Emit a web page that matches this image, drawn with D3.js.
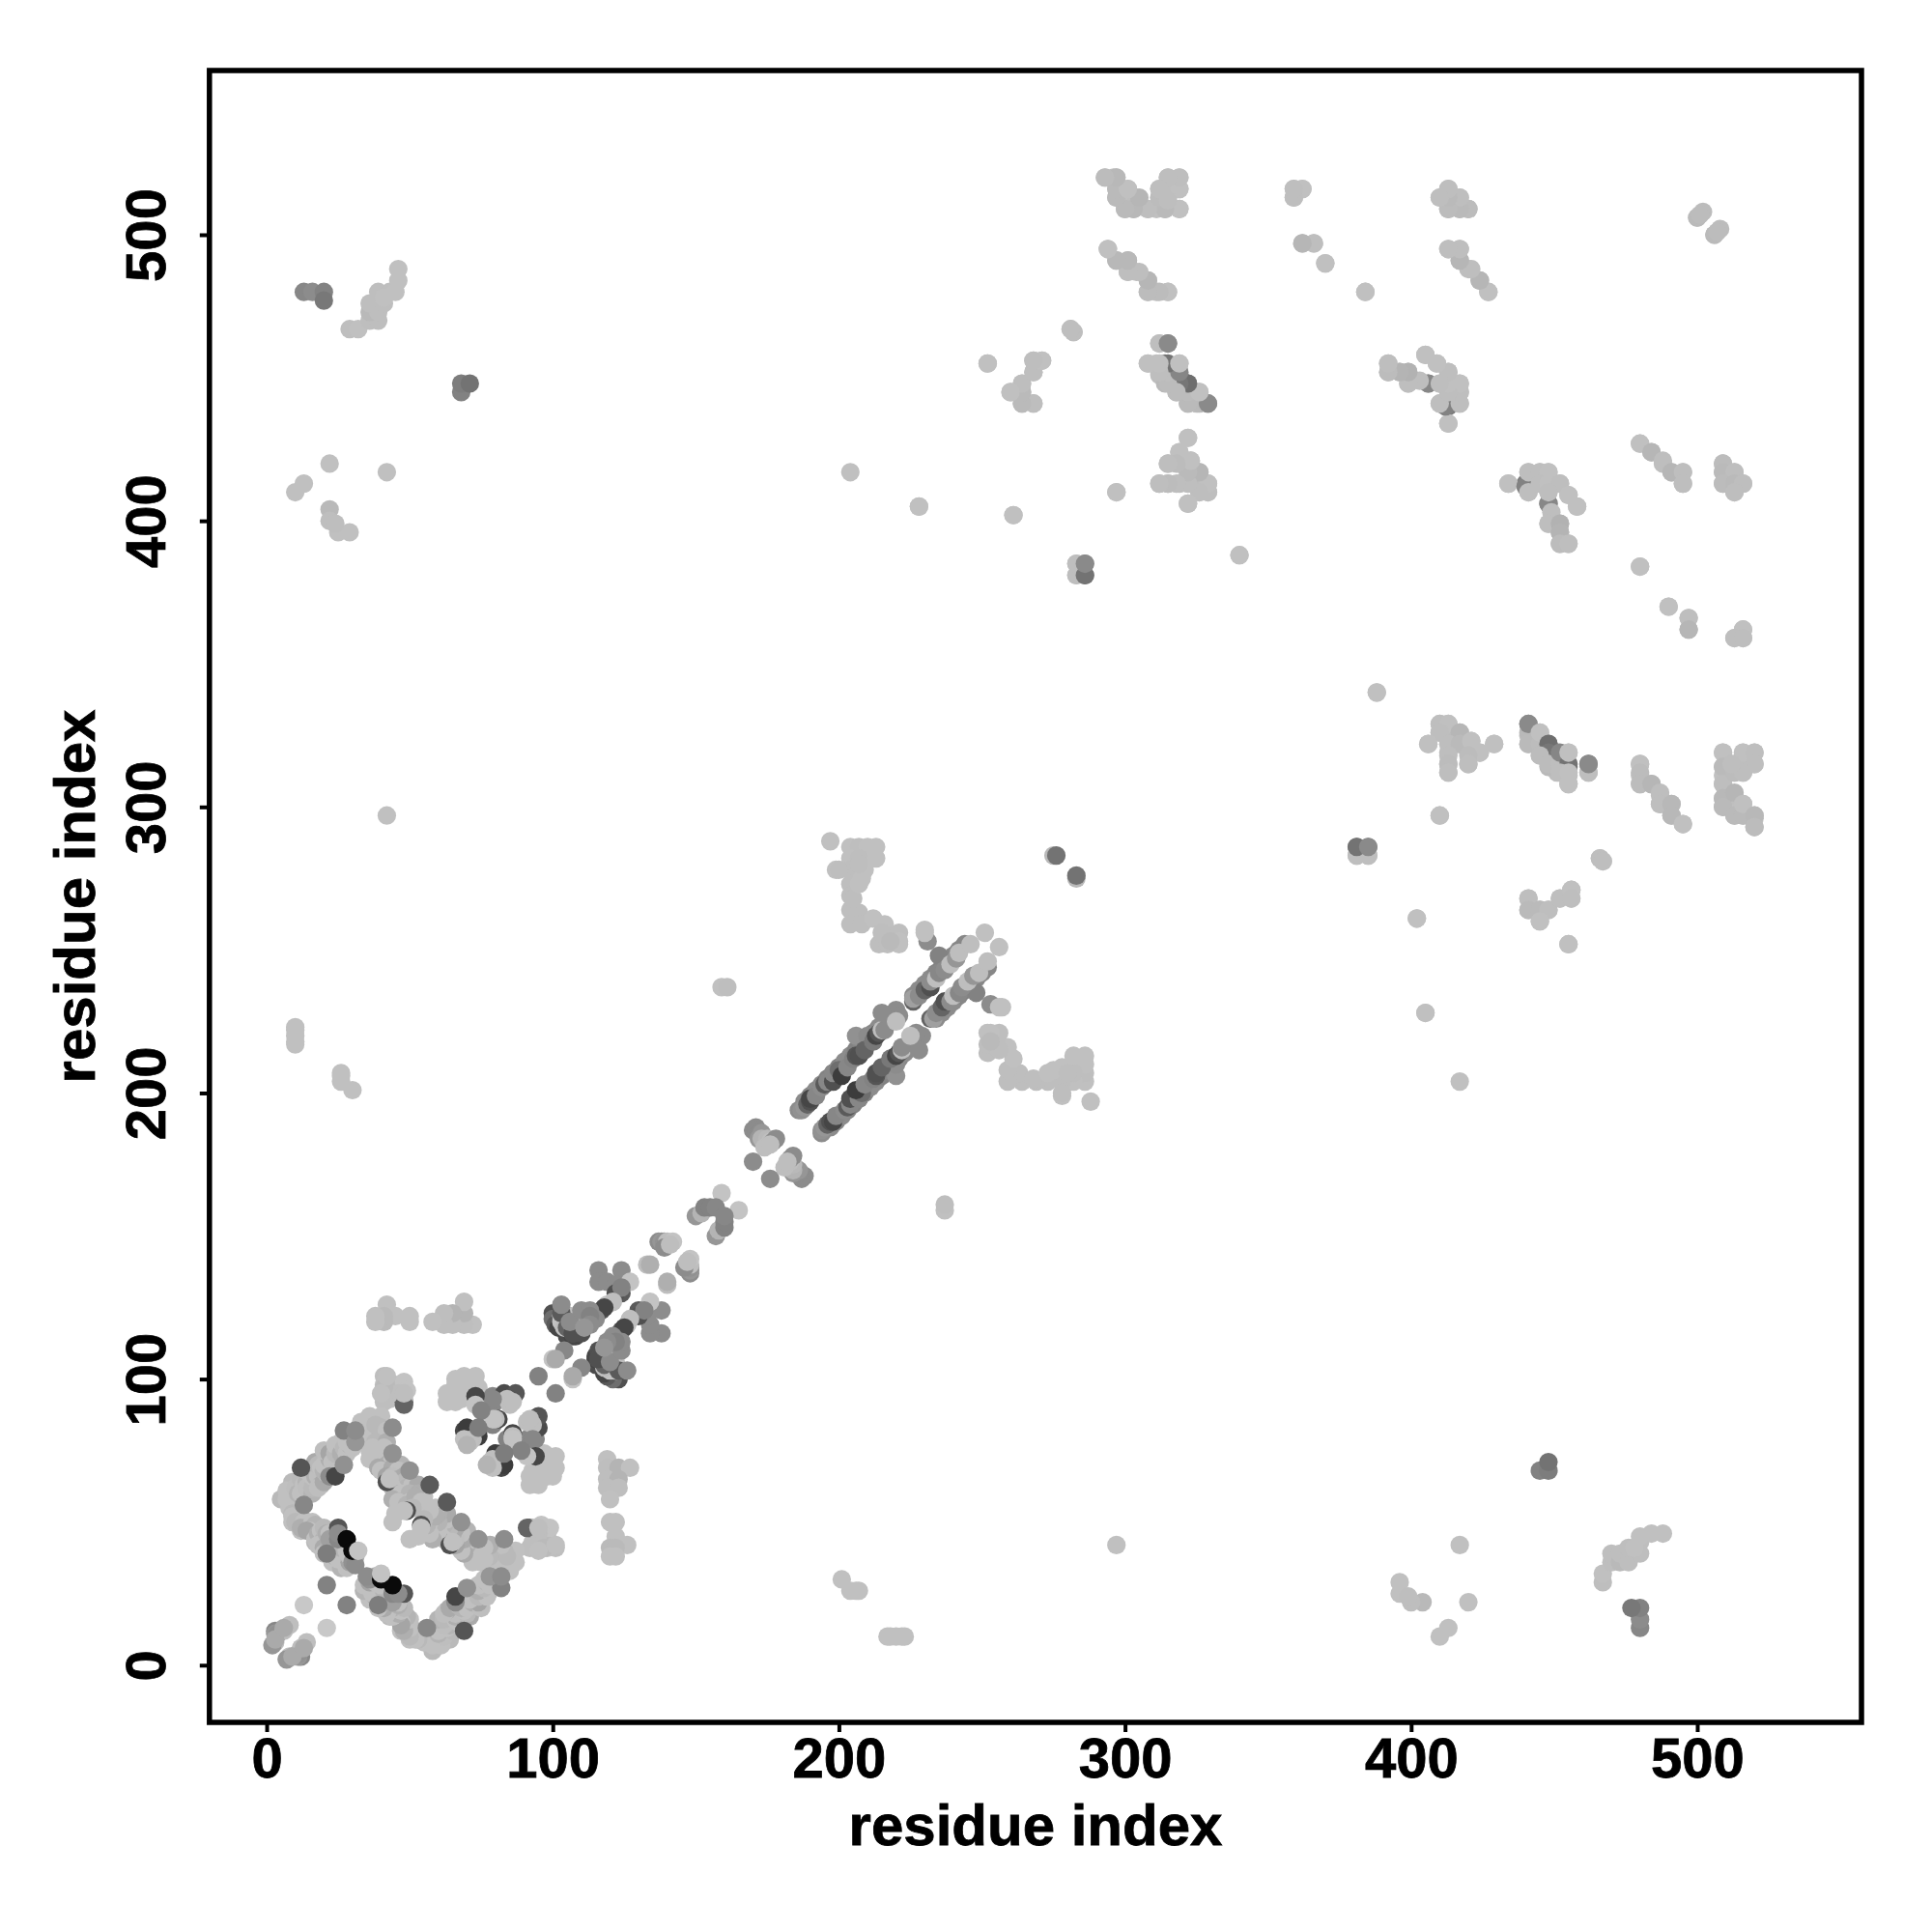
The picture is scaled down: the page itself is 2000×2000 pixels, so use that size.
<!DOCTYPE html>
<html><head><meta charset="utf-8">
<script src="https://cdn.jsdelivr.net/npm/d3@7/dist/d3.min.js"></script>
<style>html,body{margin:0;padding:0;background:#fff}svg{display:block}</style>
</head><body><svg id="chart" width="2000" height="2000"></svg>
<script>
const axisLabel = "residue index";
const tickValues = [0,100,200,300,400,500];
const axisDomain = [-20,557.4];
// contact pairs [residue i, residue j, grey level]; a contact map is symmetric, so each pair is drawn at (i,j) and (j,i)
const farTopLeft = [[13,480,135],[16,480,140],[20,480,130],[20,477,120],[29,467,190],[32,467,192],[36,470,190],[39,470,190],[36,473,185],[39,473,190],[36,476,190],[41,476,190],[39,480,190],[43,480,190],[41,478,192],[45,480,192],[46,484,192],[46,488,192],
 [10,410,192],[13,413,192],[22,420,192],[42,417,192],[22,404,185],[22,400,190],[25,396,192],[29,396,192],[24,399,190],[10,222,192],[10,218,192],[26,206,192],[26,204,192],[30,201,192],[42,297,192],[68,445,130],[68,448,125],[71,448,115],
 [26,207,192],[10,217,192],[10,220,192],[10,223,192],[204,417,192],[228,405,192],[261,402,192],[275,283,185],[276,283,115],[159,237,192],[161,237,190]];
const sideBlock = [[197,288,192],[204,286,192],[207,286,190],[210,286,192],[213,286,192],[199,278,192],[204,282,192],[207,282,190],[204,278,190],[209,278,192],[204,273,190],[208,275,192],[204,269,190],[204,264,190],[207,263,190],[204,259,190],[208,259,190],[212,261,192],
 [216,259,192],[214,252,190],[218,255,190],[221,256,190],[221,252,192],[217,252,190],[230,257,192],[221,253,192],[215,256,190],[218,253,186],
 [205,268,190],[207,273,192],[207,280,190],[200,278,190],[213,282,192]];
const upperV = [[293,520,190],[296,520,190],[297,520,190],[301,516,188],[297,516,185],[297,513,185],[304,513,186],[301,513,190],[298,514,192],[300,509,190],[303,509,188],[308,509,192],[311,509,192],[314,509,188],[319,509,192],[315,520,190],[319,520,190],[312,516,190],[319,516,192],[312,513,190],[315,513,190],[316,518,190],
 [294,495,190],[297,491,186],[301,491,188],[301,487,190],[304,487,190],[308,484,182],[308,480,190],[311,480,192],[315,480,192],
 [281,467,190],[282,466,190],[252,455,190],[268,456,190],[271,456,192],[268,452,190],[264,448,190],[260,445,190],[264,445,186],[264,441,186],[268,441,192],
 [312,462,190],[308,455,192],[311,455,190],[314,455,125],[312,451,190],[314,448,185],[319,451,130],[318,448,125],[322,448,110],[318,445,190],[319,455,192],[315,462,138],[322,441,190],[325,441,190],[323,444,130],[326,445,192],[329,441,140],
 [322,429,192],[319,424,190],[315,420,190],[319,420,186],[323,421,192],[326,417,182],[322,417,188],[312,413,190],[315,413,190],[319,413,188],[323,413,188],[329,413,190],[326,410,188],[329,410,190],[322,406,192],[297,410,192],[283,385,192],[283,381,192],[286,381,128],[286,385,138],[340,388,192],
 [359,516,190],[362,516,192],[359,513,188],[362,497,180],[366,497,192],[370,490,192]];
const upperRight = [[413,516,190],[410,513,190],[417,513,190],[413,513,188],[413,509,186],[417,509,188],[420,509,190],[413,495,190],[417,495,190],[417,491,186],[420,488,190],[424,484,182],[427,480,192],[384,480,192],
 [392,455,190],[392,452,188],[396,452,178],[399,452,174],[399,448,190],[406,448,140],[405,458,192],[409,455,192],[413,452,190],[410,448,192],[413,448,190],[417,448,190],[413,445,188],[417,445,190],[410,441,190],[413,440,125],[417,441,190],[413,434,192],
 [500,506,188],[502,508,188],[506,500,186],[507,501,188],[480,427,192],[484,424,182],[488,421,190],[491,417,182],[495,417,190],[495,413,190],[509,420,188],[509,417,186],[513,417,190],[509,413,188],[513,413,186],[516,413,190],[513,410,190],
 [434,413,192],[440,412,130],[441,417,190],[445,417,190],[448,417,192],[441,410,190],[445,413,190],[448,413,192],[452,413,190],[448,406,135],[448,410,190],[455,409,192],[458,405,192],[449,403,190],[448,399,190],[452,399,178],[452,396,180],[452,392,188],[455,392,190],[480,384,192]];
const midRight = [[490,370,192],[497,366,190],[497,362,182],[516,362,192],[513,359,190],[516,359,190],[388,340,192],
 [410,329,190],[413,329,192],[410,326,190],[417,326,182],[406,322,192],[413,322,190],[417,322,186],[421,323,192],[424,319,192],[429,322,192],[413,318,190],[420,318,188],[413,315,188],[420,315,190],[413,312,190],
 [441,326,185],[441,322,186],[441,329,138],[445,322,188],[445,326,192],[448,322,110],[448,319,118],[445,318,188],[448,315,188],[452,315,190],[452,319,134],[455,315,115],[455,319,192],[452,312,190],[455,312,192],[455,308,192],[462,312,190],[462,315,138],
 [410,297,192],[480,315,192],[480,312,188],[480,308,188],[484,308,182],[487,305,190],[487,301,190],[491,301,184],[491,297,184],[495,294,192],
 [509,319,192],[509,314,186],[509,308,190],[509,303,184],[509,300,186],[516,319,192],[520,319,190],[520,315,190],[513,312,188],[516,312,190],[512,315,190],[513,305,182],[513,297,186],[516,297,186],[516,301,192],[520,297,184],[520,293,188],
 [381,283,190],[385,283,190],[381,286,115],[385,286,138],[466,282,190],[467,281,190],[402,261,192],[455,252,192],[405,228,192],
 [441,268,190],[441,264,186],[445,264,186],[448,264,190],[445,260,192],[452,268,190],[456,271,192],[456,268,190]];
const lateBandOuter = [[186,194,140],[188,197,140],[190,199,135],[192,201,140],[194,203,135],[196,205,130],[198,207,135],[200,209,130],[202,211,140],[204,213,140],[206,215,130],[208,217,135],[210,219,140],[212,221,135],[214,223,140],[216,225,140],[218,227,140],[220,229,140],[226,234,140],[228,236,140],[230,238,140],[232,240,140],[234,242,135],[236,244,130],[238,246,135],[240,248,135],[242,250,135]];
const lateBand = [[187,194,145],[188,195,150],[189,196,100],[190,197,80],[190,198,70],[192,199,135],[194,202,140],[195,203,90],[196,204,135],[198,204,80],[198,207,135],[200,208,110],[201,206,60],[203,209,135],[205,212,130],[206,213,85],[207,213,80],[206,220,145],[210,220,140],[209,215,100],[212,218,120],[213,220,70],[214,221,85],[215,222,190],[216,222,140],[215,228,140],[221,227,140],[220,225,190],[226,232,100],[226,233,160],[228,234,140],[230,236,100],[232,237,80],[232,239,140],[234,240,190],[235,242,135],[235,248,130],[237,243,140],[239,245,190],[241,247,150],[244,252,135],[242,249,190],[246,252,190],[231,253,140],[230,256,192],[251,256,192]];
const earlyMiddle = [[170,187,140],[171,188,140],[171,187,140],[172,186,140],[173,186,150],[172,184,150],[173,184,180],[175,184,185],[176,183,190],[177,183,150],[178,184,140],[174,181,190],[170,176,140],[176,182,190],
 [159,165,195],[150,157,150],[152,158,180],[153,160,130],[155,160,130],[157,160,135],
 [137,148,140],[138,148,150],[139,148,145],[140,148,190],[142,148,195],[139,146,140],[141,147,190],[133,140,190],[134,140,175],
 [116,138,140],[124,138,140],[116,134,140],[119,134,140],[122,133,140],[127,134,195],[124,130,90],[122,130,80],[124,132,130],[119,126,195],[121,127,190],[117,124,90],[118,125,70],
 [100,123,80],[100,121,110],[101,119,90],[102,118,70],[105,115,75],[107,115,70],[108,115,70],[109,117,75],[110,116,80],[107,116,90],
 [103,122,195],[104,121,195],[106,122,190],[105,120,195],[107,120,190],[103,120,195],[104,118,190],[106,118,195],[108,118,195],[106,119,195],[108,120,190],
 [103,123,90],[105,118,100],[107,116,80],[106,120,140],[103,126,140],[110,124,140],[113,124,140],[115,121,140],[113,122,130],[113,119,140],[111,118,150],[104,110,135],[100,107,195],[101,107,170],[95,101,130]];
const strandNearHundred = [[63,95,192],[63,92,192],[66,92,192],[66,98,192],[66,100,192],[69,101,192],[73,101,192],[71,95,75],[70,97,192],[74,97,192],[74,92,192],[68,93,192],[65,95,192],[69,95,192],
 [79,94,135],[79,91,135],[83,95,75],[87,95,85],[85,92,130],[84,93,190],[85,91,190],[86,92,190],[78,86,130],[79,84,130],[81,86,70],[80,86,190],[79,86,195],
 [69,82,70],[70,83,60],[74,82,135],[73,80,60],[74,80,60],[72,79,190],[71,78,190],[69,79,192],[70,77,180],
 [79,93,135],[73,94,70],[73,91,195],[75,89,130],[74,83,125]];
const lowerBlocks = [[119,72,192],[119,69,190],[123,69,180],[127,69,192],[119,65,190],[123,65,180],[119,62,190],[123,62,190],[120,58,192],[120,50,192],[122,50,192],[122,45,192],[126,42,192],[120,41,186],[122,41,186],[120,38,192],[122,38,192],
 [41,101,190],[41,98,192],[41,95,190],[45,98,186],[43,93,192],[48,92,60],[48,93,192],[48,99,195],[49,96,195],[46,95,190],
 [41,92,190],[41,97,186],[40,95,192],[48,91,100],[48,95,190],[42,101,192]];
const rhombusA = [[5,58,185],[7,58,192],[9,64,186],[7,61,192],[8,55,192],[10,58,192],[10,62,190],[11,60,180],[12,60,192],[12,65,185],[13,63,192],[14,64,180],[15,63,192],[14,62,190],[16,60,180],[14,68,192],[16,62,185],[16,66,192],[17,66,175],[17,71,170],[18,66,190],[18,70,185],[19,63,175],[19,69,192],[18,62,190],[20,64,170],[21,67,192],[20,68,180],[20,70,192],[23,69,180],[22,70,192],[22,72,175],[20,75,190],[22,74,165],[23,71,192],[25,72,180],[24,72,192],[24,74,185],[24,77,192],[26,74,175],[26,78,192],[27,76,185],[28,74,192],[30,80,175],[29,77,180],[28,78,192],[30,76,192],[32,80,192],[34,78,185],[33,85,192],[35,80,192]];
const rhombusB = [[36,87,192],[38,86,192],[40,87,192],[37,83,192],[40,83,185],[36,80,192],[39,79,192],[38,84,185],[42,82,192],[38,78,185],[37,76,192],[36,75,192],[42,78,175],[36,72,192],[40,72,185],[39,73,192],[41,76,192],[42,70,175],[44,72,192],[47,70,180],[39,69,170],[40,68,192],[44,69,170],[46,68,192],[42,66,165],[44,66,190],[46,65,175],[47,64,192],[48,66,170],[48,64,185],[49,62,180],[51,63,192],[53,63,170],[44,62,192],[45,60,170],[47,60,192],[50,60,180],[50,57,192],[53,60,175],[55,59,192],[44,58,175],[46,57,192],[45,53,192],[44,50,192],[49,56,180],[52,57,190],[52,59,175],[54,57,192],[51,55,185]];
const rhombusC = [[9,50,192],[9,53,185],[12,47,192],[12,52,175],[9,52,192],[10,50,185],[13,50,192],[12,48,175],[16,50,192],[17,49,180],[15,47,192],[14,47,165],[17,43,185],[17,44,192],[18,46,175],[19,47,192],[20,44,180],[18,42,192],[20,41,170],[20,39,192],[20,48,185],[21,46,175],[22,46,192],[24,44,180],[24,42,165],[26,39,192],[27,36,175],[23,36,192],[26,34,180],[22,42,175],[23,41,192],[24,38,165],[25,37,192],[26,41,180],[28,36,192],[31,38,175],[28,40,192],[28,34,192],[29,36,165],[29,38,192]];
const rhombusAccents = [[12,69,85],[13,56,135],[22,66,140],[24,66,70],[27,70,145],[27,82,130],[31,78,150],[31,82,140],[44,83,140],[44,74,145],[50,68,145],[42,64,80],[43,65,192],[57,63,90],[49,54,80],[48,54,192],[22,44,160],[25,44,135],[25,48,85],[25,46,140],[28,44,10],[21,39,125],[30,36,145],[31,35,140],[30,40,10],[32,40,195]];
const nearDiagonal = [[13,21,200],[21,28,130],[3,12,135],[3,11,150],[4,11,145],[6,12,190],[3,8,190],[2,7,150],[3,9,170],[8,14,190],[6,13,170]];
const contactGroups = [farTopLeft, sideBlock, upperV, upperRight, midRight, lateBandOuter, lateBand, earlyMiddle, strandNearHundred, lowerBlocks, rhombusA, rhombusB, rhombusC, rhombusAccents, nearDiagonal];

const svg = d3.select("#chart");
const x = d3.scaleLinear().domain(axisDomain).range([216.8,1927]);
const y = d3.scaleLinear().domain(axisDomain).range([1783,73]);

const marks = svg.append("g");
contactGroups.forEach(group => {
  group.forEach(d => {
    const [i,j,g] = d;
    const c = d3.rgb(g,g,g);
    marks.append("circle").attr("cx",x(i)).attr("cy",y(j)).attr("r",9.6).attr("fill",c);
    marks.append("circle").attr("cx",x(j)).attr("cy",y(i)).attr("r",9.6).attr("fill",c);
  });
});

svg.append("rect").attr("x",216.8).attr("y",73).attr("width",1710.2).attr("height",1710)
  .attr("fill","none").attr("stroke","#000").attr("stroke-width",5.5);

const xAxis = d3.axisBottom(x).tickValues(tickValues).tickFormat(d3.format("d")).tickSize(10).tickPadding(0);
const yAxis = d3.axisLeft(y).tickValues(tickValues).tickFormat(d3.format("d")).tickSize(10).tickPadding(0);
const gx = svg.append("g").attr("transform","translate(0,1783)").call(xAxis);
const gy = svg.append("g").attr("transform","translate(216.8,0)").call(yAxis);
const textStyle = s => s.style("font-family","'Liberation Sans',Arial,sans-serif").style("font-weight","700").attr("fill","#000").attr("stroke","#000").attr("stroke-width",0.8);
[gx,gy].forEach(g=>{
  g.select(".domain").remove();
  g.selectAll(".tick line").attr("stroke","#000").attr("stroke-width",4);
  textStyle(g.selectAll("text")).style("font-size","58px");
});
gx.selectAll("text").attr("dy",null).attr("y",57);
gy.selectAll("text").attr("dy",null).attr("x",null).attr("y",null)
  .attr("text-anchor","middle").attr("transform","translate(-46,0) rotate(-90)");

textStyle(svg.append("text").attr("x",1072).attr("y",1910).attr("text-anchor","middle")).style("font-size","60px").text(axisLabel);
textStyle(svg.append("text").attr("transform","translate(98,928) rotate(-90)").attr("text-anchor","middle")).style("font-size","60px").text(axisLabel);
</script></body></html>
